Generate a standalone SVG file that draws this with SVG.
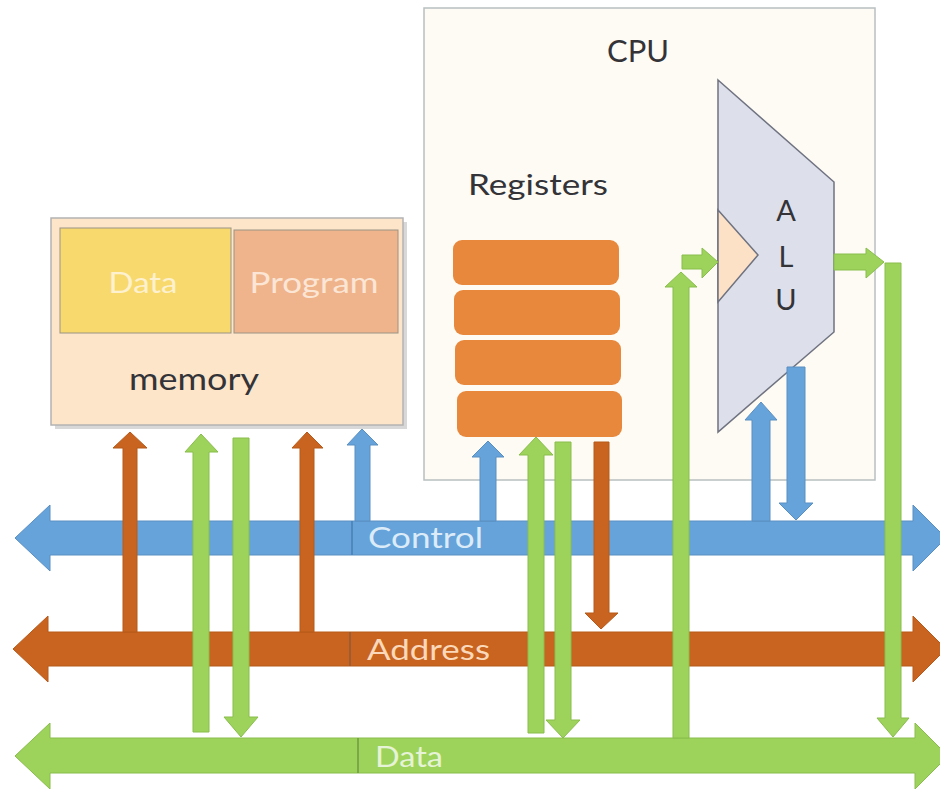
<svg xmlns="http://www.w3.org/2000/svg" width="940" height="789" viewBox="0 0 940 789">
<style>
text{font-family:Lato,"Open Sans","Liberation Sans",sans-serif}
.dark{fill:#333338}
.blue{fill:#66a3da;stroke:#5a8fc2;stroke-width:1}
.orange{fill:#c8641f;stroke:#b75a1b;stroke-width:1}
.green{fill:#9dd35b;stroke:#88bd4c;stroke-width:1}
.reg{fill:#e8883d}
.sep{stroke-width:1.5}
</style>
<rect width="940" height="789" fill="#ffffff"/>

<g id="cpu">
<rect x="424" y="8" width="451" height="472" fill="#fefbf4" stroke="#b8bfc0" stroke-width="1.5"/>
<text x="638" y="62" font-size="30" text-anchor="middle" class="dark" textLength="62" lengthAdjust="spacingAndGlyphs">CPU</text>
</g>

<g id="registers">
<text x="468" y="195" font-size="28" class="dark" textLength="140" lengthAdjust="spacingAndGlyphs">Registers</text>
<rect class="reg" x="453" y="240" width="166" height="45" rx="9"/>
<rect class="reg" x="454" y="290" width="166" height="45" rx="9"/>
<rect class="reg" x="455" y="340" width="166" height="45" rx="9"/>
<rect class="reg" x="457" y="391" width="165" height="46" rx="9"/>
</g>

<g id="alu">
<polygon points="718,80 834,182 834,332 718,432" fill="#dde0ea" stroke="#6f7280" stroke-width="1.5"/>
<polygon points="718,210 758,255 718,302" fill="#fde1c6" stroke="#6f7280" stroke-width="1.5"/>
<text x="786" y="221" font-size="29" text-anchor="middle" class="dark">A</text>
<text x="786" y="267" font-size="29" text-anchor="middle" class="dark">L</text>
<text x="786" y="310" font-size="29" text-anchor="middle" class="dark">U</text>
</g>

<g id="memory">
<rect x="55" y="222" width="352" height="207" fill="#c8c8c8" opacity="0.7"/>
<rect x="51" y="218" width="352" height="207" fill="#fde5c9" stroke="#b3b3b3" stroke-width="1.5"/>
<rect x="60" y="228" width="171" height="105" fill="#f8d96e" stroke="#9a9486" stroke-width="1"/>
<rect x="234" y="230" width="164" height="103" fill="#efb48c" stroke="#9a9486" stroke-width="1"/>
<text x="143" y="293" font-size="29" text-anchor="middle" fill="#fdf1cf" textLength="69" lengthAdjust="spacingAndGlyphs">Data</text>
<text x="314" y="293" font-size="29" text-anchor="middle" fill="#fbe6d6" textLength="129" lengthAdjust="spacingAndGlyphs">Program</text>
<text x="129" y="390" font-size="30" class="dark" textLength="130" lengthAdjust="spacingAndGlyphs">memory</text>
</g>

<g id="buses">
<g id="control-bus">
<polygon class="blue" points="15,538 50,505 50,521 913,521 913,505 946,538 913,571 913,555 50,555 50,571"/>
<line class="sep" x1="352" y1="521" x2="352" y2="555" stroke="#4a7fb0"/>
<text x="368" y="548" font-size="29" fill="#dcebf8" textLength="115" lengthAdjust="spacingAndGlyphs">Control</text>
</g>
<g id="address-bus">
<polygon class="orange" points="13,649 48,616 48,632 913,632 913,616 946,649 913,682 913,666 48,666 48,682"/>
<line class="sep" x1="350" y1="632" x2="350" y2="666" stroke="#8f5a3a"/>
<text x="367" y="660" font-size="29" fill="#fbd8ba" textLength="123" lengthAdjust="spacingAndGlyphs">Address</text>
</g>
<g id="data-bus">
<polygon class="green" points="15,756 50,723 50,738 915,738 915,723 948,756 915,789 915,773 50,773 50,789"/>
<line class="sep" x1="358" y1="738" x2="358" y2="773" stroke="#6f9a42"/>
<text x="375" y="767" font-size="29" fill="#e6f3d6" textLength="68" lengthAdjust="spacingAndGlyphs">Data</text>
</g>
</g>

<g id="connectors">
<!-- memory connections -->
<polygon class="orange" points="123,632 123,448 113,448 130,432 147,448 137,448 137,632"/>
<polygon class="green" points="193,732 193,452 185,452 201,434 218,452 209,452 209,732"/>
<polygon class="green" points="233,438 249,438 249,717 258,717 241,737 224,717 233,717"/>
<polygon class="orange" points="300,632 300,448 292,448 307,432 323,448 314,448 314,632"/>
<polygon class="blue" points="355,521 355,445 347,445 362,429 378,445 370,445 370,521"/>
<!-- register connections -->
<polygon class="blue" points="480,521 480,457 472,457 488,441 504,457 496,457 496,521"/>
<polygon class="green" points="528,733 528,455 519,455 536,437 553,455 544,455 544,733"/>
<polygon class="green" points="555,442 571,442 571,720 580,720 563,738 546,720 555,720"/>
<polygon class="orange" points="594,442 609,442 609,613 618,613 601,629 585,613 594,613"/>
<!-- ALU input -->
<polygon class="green" points="673,738 673,287 665,287 681,272 697,287 689,287 689,738"/>
<polygon class="green" points="682,255 702,255 702,248 718,262 702,278 702,269 682,269"/>
<!-- ALU output -->
<polygon class="green" points="834,254 866,254 866,248 884,262 866,278 866,270 834,270"/>
<polygon class="green" points="885,263 901,263 901,718 909,718 893,737 877,718 885,718"/>
<!-- ALU control -->
<polygon class="blue" points="752,521 752,420 745,420 761,402 777,420 770,420 770,521"/>
<polygon class="blue" points="787,367 805,367 805,503 813,503 796,520 779,503 787,503"/>
</g>
</svg>
